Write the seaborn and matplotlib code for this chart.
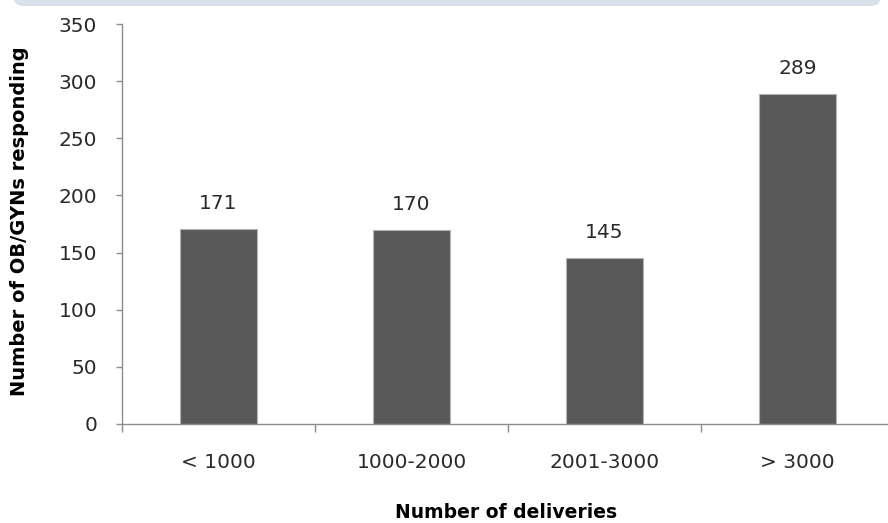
import matplotlib
matplotlib.use("Agg")
import matplotlib.pyplot as plt
from matplotlib.patches import FancyBboxPatch
import seaborn as sns
import pandas as pd

categories = ["< 1000", "1000-2000", "2001-3000", "> 3000"]
responders = [171, 170, 145, 289]
y_ticks = [0, 50, 100, 150, 200, 250, 300, 350]

sns.set_style("white")
plt.rcParams["font.family"] = ["DejaVu Sans"]

df = pd.DataFrame({"deliveries": categories, "count": responders})

fig = plt.figure(figsize=(8.88, 5.23), dpi=100)
ax = fig.add_axes([0.1374, 0.1893, 0.8694, 0.7647])

# light framed header band along the top edge
band = FancyBboxPatch((0.016, 0.9885), 0.975, 0.03, boxstyle="round,pad=0,rounding_size=0.012",
                      transform=fig.transFigure, facecolor="#d9e2ea", edgecolor="none",
                      clip_on=False)
fig.patches.append(band)

sns.barplot(data=df, x="deliveries", y="count", ax=ax, color="#595959",
            width=0.4, saturation=1, edgecolor="#b4b4b4", linewidth=0.8)

text_color = "#2a2a2a"
for i, v in enumerate(responders):
    ax.annotate(str(v), (i, v), xytext=(0, 14.4), textcoords="offset points",
                ha="center", va="baseline", fontsize=14.5, color=text_color)

ax.set_xlim(-0.5, 3.5)
ax.set_ylim(0, 350)
ax.set_yticks(y_ticks)
ax.set_yticklabels([str(t) for t in y_ticks], fontsize=14.5, color=text_color)
ax.set_xticks(range(len(categories)))
ax.set_xticklabels(categories, fontsize=14.5, color=text_color)

for s in ["top", "right"]:
    ax.spines[s].set_visible(False)
for s in ["left", "bottom"]:
    ax.spines[s].set_color("#8c8c8c")
    ax.spines[s].set_linewidth(1.0)

ax.tick_params(axis="y", which="major", left=True, length=4, width=1, color="#8c8c8c", pad=14)
ax.tick_params(axis="x", which="major", bottom=False, length=0, pad=21)
ax.set_xticks([-0.5, 0.5, 1.5, 2.5], minor=True)
ax.tick_params(axis="x", which="minor", bottom=True, length=6, width=1, color="#8c8c8c")

ax.set_ylabel("Number of OB/GYNs responding", fontsize=14, fontweight="bold",
              color="#000000", va="center")
ax.yaxis.set_label_coords(-0.1328, 0.506)
ax.set_xlabel("Number of deliveries", fontsize=13.5, fontweight="bold",
              color="#000000", va="center")
ax.xaxis.set_label_coords(0.498, -0.2225)

fig.savefig("out.png", dpi=100)
